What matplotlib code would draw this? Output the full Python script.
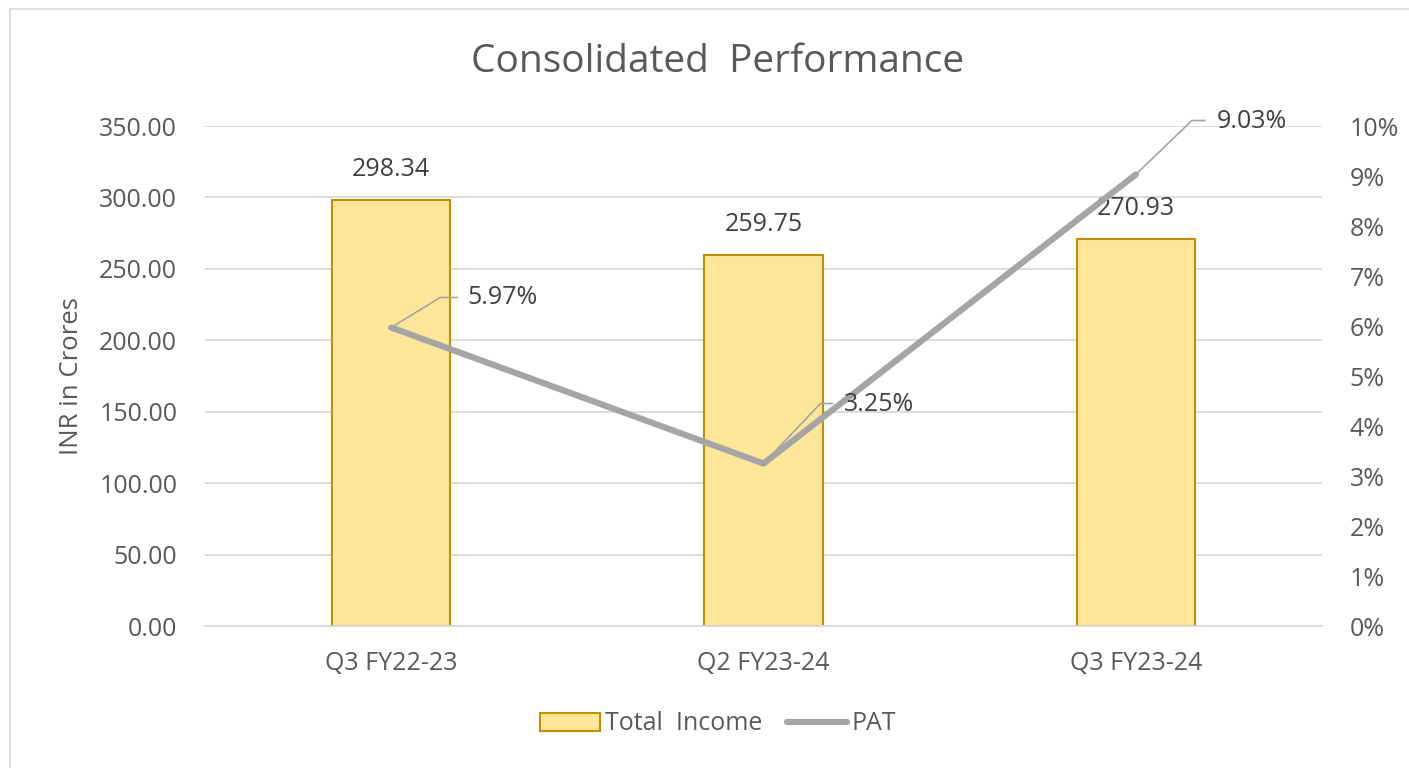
import matplotlib
matplotlib.use("Agg")
import matplotlib.pyplot as plt
from matplotlib.patches import Rectangle, Patch
from matplotlib.lines import Line2D
from matplotlib.ticker import FuncFormatter, MultipleLocator
from matplotlib.transforms import IdentityTransform

categories = ["Q3 FY22-23", "Q2 FY23-24", "Q3 FY23-24"]
total_income = [298.34, 259.75, 270.93]
pat_pct = [5.97, 3.25, 9.03]
income_labels = ["298.34", "259.75", "270.93"]
pat_labels = ["5.97%", "3.25%", "9.03%"]

TXT = "#595959"
LBL = "#404040"
plt.rcParams["font.family"] = ["Open Sans", "DejaVu Sans"]

fig = plt.figure(figsize=(14.09, 7.68), dpi=100)
fig.patches.append(Rectangle((10/1409, -0.05), 1.2, 1 - 9/768 + 0.05, transform=fig.transFigure,
                             fill=False, edgecolor="#D9D9D9", linewidth=1.2))
ax = fig.add_axes([205/1409, 1 - 626/768, (1322 - 205)/1409, 500/768])
x = list(range(len(categories)))
ax.bar(x, total_income, width=0.317, color="#FFE699", edgecolor="#BF9000", linewidth=1.5, zorder=2)
ax.set_xlim(-0.5, 2.5)
ax.set_ylim(0, 350)
ax.yaxis.set_major_locator(MultipleLocator(50))
ax.yaxis.set_major_formatter(FuncFormatter(lambda v, p: f"{v:.2f}"))
ax.grid(axis="y", color="#D9D9D9", linewidth=1.3, zorder=0)
ax.set_axisbelow(True)
for s in ["top", "right", "left"]:
    ax.spines[s].set_visible(False)
ax.spines["bottom"].set_color("#D9D9D9")
ax.spines["bottom"].set_linewidth(1.3)
ax.set_xticks(x)
ax.set_xticklabels(categories)
ax.tick_params(axis="x", length=0, pad=18, labelsize=18, labelcolor=TXT)
ax.tick_params(axis="y", length=0, pad=20, labelsize=18, labelcolor=TXT)
ax.set_ylabel("INR in Crores", fontsize=18.5, color=TXT)
ax.yaxis.set_label_coords(-(205 - 84)/1117, 0.5)

for xi, v, lab in zip(x, total_income, income_labels):
    ax.annotate(lab, (xi, v), xytext=(0, 22), textcoords="offset points",
                ha="center", va="center", fontsize=18, color=LBL)

ax2 = ax.twinx()
ax2.set_ylim(0, 10)
ax2.yaxis.set_major_locator(MultipleLocator(1))
ax2.yaxis.set_major_formatter(FuncFormatter(lambda v, p: f"{int(round(v))}%"))
ax2.tick_params(axis="y", length=0, pad=20, labelsize=18, labelcolor=TXT)
for s in ["top", "right", "left", "bottom"]:
    ax2.spines[s].set_visible(False)
ax2.plot(x, pat_pct, color="#A5A5A5", linewidth=4.5, solid_capstyle="round", zorder=3)

# leader-line labels: (elbow dx, elbow dy, end dx, text dx, text dy) in pixels
leaders = [(49, 30, 66, 76, 30), (57, 60, 69, 80, 59), (56, 54, 69, 81, 53)]
for xi, v, lab, (ex, ey, hx, tx, ty) in zip(x, pat_pct, pat_labels, leaders):
    px, py = ax2.transData.transform((xi, v))
    fig.add_artist(Line2D([px, px + ex, px + hx], [py, py + ey, py + ey], transform=IdentityTransform(),
                          color="#A5A5A5", linewidth=1.2, zorder=4))
    fig.text(px + tx, py + ty, lab, transform=IdentityTransform(), ha="left", va="center",
             fontsize=18, color=LBL)

fig.text(718/1409, 1 - 62/768, "Consolidated  Performance", ha="center", va="center",
         fontsize=28, color=TXT)

handles = [Patch(facecolor="#FFE699", edgecolor="#BF9000", linewidth=1.5),
           Line2D([0], [0], color="#A5A5A5", linewidth=4.5, solid_capstyle="round")]
fig.legend(handles, ["Total  Income", "PAT"], loc="center", bbox_to_anchor=(718/1409, 1 - 724/768),
           ncol=2, frameon=False, fontsize=18, labelcolor=TXT, handlelength=2.4,
           handletextpad=0.2, columnspacing=1.0)

fig.savefig("out.png", dpi=100)
